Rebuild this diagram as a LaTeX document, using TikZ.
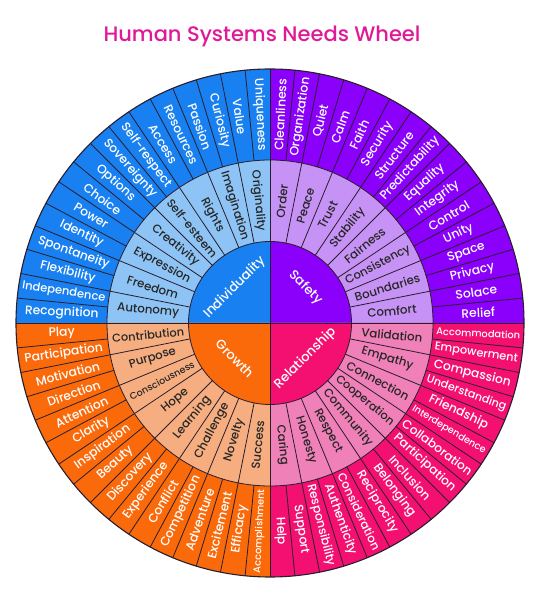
\documentclass[tikz,border=0pt]{standalone}
\usepackage{fontspec}
\setmainfont{Poppins}
\newfontfamily\titlefont{Poppins Medium}
\newfontfamily\lblfont{Poppins Medium}
\definecolor{indO}{RGB}{24,128,240}
\definecolor{indM}{RGB}{142,196,245}
\definecolor{safO}{RGB}{138,0,250}
\definecolor{safM}{RGB}{198,146,245}
\definecolor{relO}{RGB}{244,16,112}
\definecolor{relM}{RGB}{240,128,184}
\definecolor{groO}{RGB}{250,106,10}
\definecolor{groM}{RGB}{246,174,128}
\definecolor{titleC}{RGB}{224,26,150}
\definecolor{lineC}{RGB}{40,30,45}
\newsavebox\lblbox
\newcommand\fitlbl[2]{\sbox\lblbox{#2}\ifdim\wd\lblbox>#1\resizebox{#1}{!}{\usebox\lblbox}\else\usebox\lblbox\fi}
\newcommand\wquad[7]{%
  \fill[#2] (0,0) -- (#1:254) arc[start angle=#1, delta angle=90, radius=254] -- cycle;
  \fill[#3] (0,0) -- (#1:163) arc[start angle=#1, delta angle=90, radius=163] -- cycle;
  \fill[#2] (0,0) -- (#1:81.5) arc[start angle=#1, delta angle=90, radius=81.5] -- cycle;
  \foreach \lbl [count=\i] in {#4} {
    \pgfmathsetmacro\a{#1+(\i-0.5)*5.625}
    \pgfmathsetmacro\b{#1+\i*5.625}
    \pgfmathsetmacro\rot{(\a>90 && \a<270) ? \a-180 : \a}
    \draw[sep] (\b:163) -- (\b:254);
    \node[outerlbl, rotate=\rot] (#7o\i) at (\a:208.5) {\fitlbl{84pt}{\lbl}};
  }
  \foreach \lbl [count=\i] in {#5} {
    \pgfmathsetmacro\a{#1+(\i-0.5)*11.25}
    \pgfmathsetmacro\b{#1+\i*11.25}
    \pgfmathsetmacro\rot{(\a>90 && \a<270) ? \a-180 : \a}
    \draw[sep] (\b:81.5) -- (\b:163);
    \node[midlbl, rotate=\rot] (#7m\i) at (\a:122.5) {\fitlbl{72pt}{\lbl}};
  }
  \pgfmathsetmacro\h{#1+45}
  \pgfmathsetmacro\hr{(\h<180) ? \h-90 : \h+90}
  \node[hublbl, rotate=\hr] (#7h) at (\h:50) {#6};
}
\begin{document}
\begin{tikzpicture}[x=1pt,y=1pt,
  outerlbl/.style={text=white,font=\lblfont\fontsize{12.3}{13}\selectfont,inner sep=0pt},
  midlbl/.style={text=black!85,font=\lblfont\fontsize{11.8}{12}\selectfont,inner sep=0pt},
  hublbl/.style={text=white,font=\lblfont\fontsize{13}{14}\selectfont,inner sep=0pt},
  sep/.style={draw=lineC,line width=0.8pt}]
\useasboundingbox (0,0) rectangle (540,594);
\fill[white] (0,0) rectangle (540,594);
\node[text=titleC,font=\titlefont\fontsize{21}{22}\selectfont] (title) at (262,558) {Human Systems Needs Wheel};
\begin{scope}[shift={(270,271)}]
\coordinate (C) at (0,0);
\wquad{90}{indO}{indM}{Uniqueness,Value,Curiosity,Passion,Resources,Access,Self-respect,Sovereignty,Options,Choice,Power,Identity,Spontaneity,Flexibility,Independence,Recognition}{Originality,Imagination,Rights,Self-esteem,Creativity,Expression,Freedom,Autonomy}{Individuality}{ind}
\wquad{0}{safO}{safM}{Relief,Solace,Privacy,Space,Unity,Control,Integrity,Equality,Predictability,Structure,Security,Faith,Calm,Quiet,Organization,Cleanliness}{Comfort,Boundaries,Consistency,Fairness,Stability,Trust,Peace,Order}{Safety}{saf}
\wquad{270}{relO}{relM}{Help,Support,Responsibility,Authenticity,Consideration,Reciprocity,Belonging,Inclusion,Participation,Collaboration,Interdependence,Friendship,Understanding,Compassion,Empowerment,Accommodation}{Caring,Honesty,Respect,Community,Cooperation,Connection,Empathy,Validation}{Relationship}{rel}
\wquad{180}{groO}{groM}{Play,Participation,Motivation,Direction,Attention,Clarity,Inspiration,Beauty,Discovery,Experience,Conflict,Competition,Adventure,Excitement,Efficacy,Accomplishment}{Contribution,Purpose,Consciousness,Hope,Learning,Challenge,Novelty,Success}{Growth}{gro}
\draw[sep] (-254,0) -- (254,0);
\draw[sep] (0,-254) -- (0,254);
\draw[sep] (C) circle[radius=81.5];
\draw[sep] (C) circle[radius=163];
\draw[lineC,line width=1.1pt] (C) circle[radius=254];
\end{scope}
\end{tikzpicture}
\end{document}
